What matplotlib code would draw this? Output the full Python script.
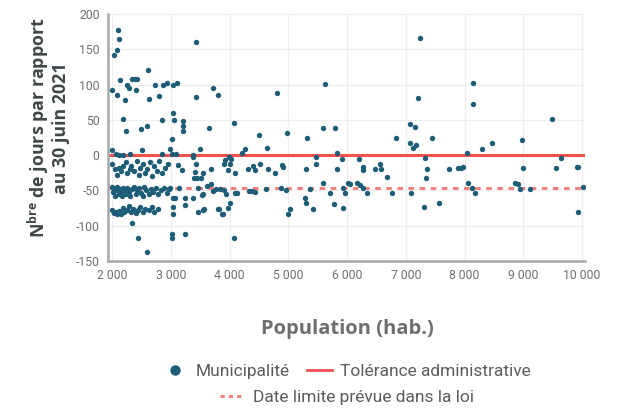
import matplotlib
matplotlib.use("Agg")
import matplotlib.pyplot as plt
from matplotlib.lines import Line2D
from matplotlib.ticker import FuncFormatter

plt.rcParams['font.family'] = ['Roboto', 'DejaVu Sans']
plt.rcParams['mathtext.fontset'] = 'custom'
plt.rcParams['mathtext.rm'] = 'Open Sans'
plt.rcParams['mathtext.bf'] = 'Open Sans:bold'

# ---- data (population, days relative to 30 June 2021) ----
pop_high = [2100, 2120, 2090, 2030, 2610, 2140, 2340, 2390, 2430, 2260, 2290, 2410, 2000, 2080,
            2220, 2630, 2730, 2870, 2940, 2790, 3040, 2190, 2240, 2490, 2600, 2850, 3040, 3060,
            3210, 3210, 3210, 3020, 3430, 3100, 3430, 3720, 3800, 3650, 4080, 4500, 4640, 4810,
            4980, 5320, 5590, 5630, 5800]
days_high = [177, 164, 149, 142, 120, 106, 108, 108, 108, 99, 95, 93, 93, 85,
             78, 79, 99, 99, 102, 84, 100, 51, 34, 37, 41, 50, 60, 50,
             48, 41, 34, 23, 161, 102, 83, 95, 85, 38, 45, 28, 10, 88,
             31, 24, 38, 101, 38]

pop_zero = [2000, 2060, 2120, 2190, 2300, 2510, 2850, 2990, 3020, 3090, 3380, 3380, 3500, 4210,
            4260, 5470, 5830]
days_zero = [7, 2, 0, 0, 1, 7, 1, 8, 1, 1, 0, -3, 8, 3,
             8, -3, 3]

pop_a = [2000, 2050, 2080, 2120, 2150, 2180, 2230, 2260, 2300, 2330, 2380, 2420, 2450, 2480,
         2520, 2560, 2600, 2640, 2680, 2720, 2760, 2800, 2850, 2900, 2950,
         3120, 3190, 3430, 3410, 3400, 3450, 3510, 3550, 3680, 3920, 3990, 4020, 3910, 4000,
         3980, 4090, 4320, 4400, 4430, 4520, 4660, 4770, 4890, 4910, 5300, 5470, 5830]
days_a = [-12, -20, -28, -18, -22, -15, -10, -25, -20, -15, -22, -8, -28, -18,
          -12, -25, -20, -10, -30, -15, -22, -8, -25, -18, -12,
          -14, -21, -13, -24, -33, -33, -33, -26, -20, -7, -3, -6, -12, -13,
          -21, -25, -19, -15, -21, -13, -20, -26, -14, -17, -20, -12, -20]

pop_b = [2000, 2010, 2030, 2050, 2070, 2090, 2110, 2130, 2150, 2170, 2190, 2210, 2240, 2260,
         2290, 2310, 2340, 2370, 2400, 2430, 2460, 2490, 2520, 2550, 2580, 2620, 2660, 2700,
         2740, 2780, 2830, 2880, 2930, 2970,
         2990, 3040, 3070, 3140, 3240, 3380, 3460, 3530, 3550, 3620, 3680, 3720, 3770, 3840,
         3900, 3940, 4090, 4130, 4330, 4380, 4430, 4620, 4880, 4960, 5280, 5370, 5590, 5710]
days_b = [-45, -52, -48, -58, -50, -45, -55, -48, -52, -58, -46, -50, -55, -47,
          -52, -58, -48, -45, -55, -50, -47, -53, -58, -45, -50, -55, -48, -52,
          -46, -55, -50, -47, -53, -48,
          -47, -61, -61, -47, -61, -61, -47, -57, -55, -44, -41, -51, -48, -48,
          -50, -55, -53, -54, -51, -51, -52, -48, -47, -50, -61, -48, -40, -54]

pop_c = [2000, 2030, 2060, 2090, 2120, 2150, 2180, 2210, 2250, 2280, 2320, 2360, 2400, 2440,
         2480, 2520, 2560, 2620, 2680, 2720, 2780,
         3040, 3040, 3240, 3460, 3550, 3570, 3800, 3820, 3870, 3880, 3970, 4000, 5000, 5030,
         5300, 5420, 5780]
days_c = [-78, -82, -80, -84, -79, -83, -75, -80, -78, -72, -80, -76, -82, -78,
          -74, -80, -76, -78, -74, -80, -77,
          -74, -84, -71, -81, -78, -76, -77, -76, -83, -84, -75, -68, -83, -77,
          -68, -77, -69]

pop_low = [2340, 2440, 2600, 3020, 3020, 3240, 4070]
days_low = [-96, -118, -137, -112, -118, -112, -117]

pop_east = [7240, 7210, 8140, 8150, 7070, 7160, 6830, 7450, 7070, 7120, 7170, 8040, 7330, 7360,
            5910, 6200, 6270, 6270, 6480, 6560, 6580, 6680, 7340, 7740, 7890, 7940, 7980,
            6020, 6050, 6170, 6220, 6270, 5930, 5970, 6340, 6770, 7090, 8060, 8130, 8180,
            5930, 7310, 7560, 9490, 8980, 8470, 8300, 9640, 9000, 9560, 9910, 9930,
            8860, 8910, 8950, 9120, 10020, 9930]
days_east = [166, 81, 102, 73, 44, 40, 24, 24, 17, 10, 14, 3, -4, -20,
             -6, -5, -17, -21, -19, -13, -20, -31, -32, -19, -18, -18, -17,
             -40, -41, -40, -42, -47, -47, -54, -54, -54, -54, -40, -47, -54,
             -75, -73, -68, 51, 21, 17, 8, -4, -18, -18, -17, -17,
             -40, -41, -48, -48, -45, -81]

population = pop_high + pop_zero + pop_a + pop_b + pop_c + pop_low + pop_east
days = days_high + days_zero + days_a + days_b + days_c + days_low + days_east

tolerance_level = 0
legal_deadline = -46

x_ticks = [2000, 3000, 4000, 5000, 6000, 7000, 8000, 9000, 10000]
y_ticks = [-150, -100, -50, 0, 50, 100, 150, 200]

# ---- figure ----
fig = plt.figure(figsize=(6.18, 4.13), dpi=100)
ax = fig.add_axes([108/618, 1-261/413, (585-108)/618, (261-14)/413])

dot_color = '#1d5d78'
red = '#f0524e'
red_light = '#f37a75'

ax.grid(True, color='#eeeeee', linewidth=0.9, zorder=0)
ax.axhline(tolerance_level, color=red, linewidth=2.2, zorder=2)
ax.axhline(legal_deadline, color=red_light, linewidth=2.0, linestyle=(0, (2, 2)), zorder=2)
ax.scatter(population, days, s=15, color=dot_color, zorder=3, linewidths=0)

ax.set_xlim(1930, 10050)
ax.set_ylim(-150, 200)
ax.set_xticks(x_ticks)
ax.set_yticks(y_ticks)
ax.xaxis.set_major_formatter(FuncFormatter(lambda v, p: f"{int(v):,}".replace(",", " ")))
ax.yaxis.set_major_formatter(FuncFormatter(lambda v, p: f"{int(v)}"))
ax.tick_params(length=0, labelsize=8.8, colors='#707070', pad=6)
for s in ['top', 'right']:
    ax.spines[s].set_visible(False)
for s in ['left', 'bottom']:
    ax.spines[s].set_color('#a8a8a8')
    ax.spines[s].set_linewidth(1.8)

# y label (two lines)
ylab_kw = dict(rotation=90, ha='center', va='center', fontsize=12.8, fontweight='bold',
               color='#3e4646', family='Open Sans')
fig.text(38/618, 1-128/413, r"N$^{\mathbf{bre}}$ de jours par rapport", **ylab_kw)
fig.text(61/618, 1-128/413, "au 30 juin 2021", **ylab_kw)

fig.text(347/618, 1-329/413, "Population (hab.)", ha='center', va='center',
         fontsize=14.5, fontweight='bold', color='#6e6e6e', family='Open Sans')

h1 = Line2D([], [], marker='o', linestyle='none', color=dot_color, markersize=6.5)
h2 = Line2D([], [], color=red, linewidth=2)
h3 = Line2D([], [], color=red_light, linewidth=2, linestyle=(0, (1.5, 1.5)))
leg1 = fig.legend([h1, h2], ["Municipalité", "Tolérance administrative"], ncol=2,
                  loc='center', bbox_to_anchor=(347/618, 1-371/413), frameon=False,
                  fontsize=12.5, handlelength=1.4, columnspacing=1.0, handletextpad=0.5,
                  labelcolor='#5c5c5c')
leg2 = fig.legend([h3], ["Date limite prévue dans la loi"],
                  loc='center', bbox_to_anchor=(347/618, 1-397/413), frameon=False,
                  fontsize=12.5, handlelength=1.4, handletextpad=0.5, labelcolor='#5c5c5c')

fig.savefig("out.png", dpi=100)
